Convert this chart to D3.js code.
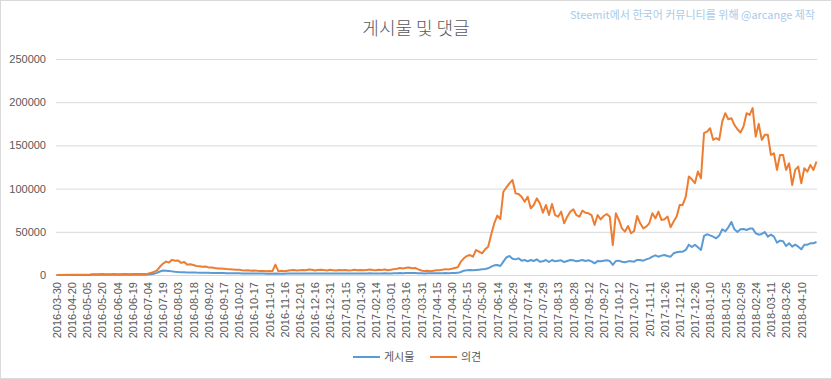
<!DOCTYPE html>
<html>
<head>
<meta charset="utf-8">
<script src="https://cdn.jsdelivr.net/npm/d3@7/dist/d3.min.js"></script>
<style>
  html, body { margin: 0; padding: 0; background: #fff; }
  svg { display: block; }
  text { font-family: 'Liberation Sans', 'Noto Sans CJK KR', sans-serif; }
</style>
</head>
<body>
<svg id="chart" width="832" height="379"></svg>
<script>
// ---------------- DATA ----------------
const titleText = "게시물 및 댓글";
const creditText = "Steemit에서 한국어 커뮤니티를 위해 @arcange 제작";
const seriesNames = ["게시물", "의견"];
const seriesColors = ["#5B9BD5", "#ED7D31"];

const yTicks = [0, 50000, 100000, 150000, 200000, 250000];

const tickLabels = [
  "2016-03-30","2016-04-20","2016-05-05","2016-05-20","2016-06-04","2016-06-19","2016-07-04","2016-07-19",
  "2016-08-03","2016-08-18","2016-09-02","2016-09-17","2016-10-02","2016-10-17","2016-11-01","2016-11-16",
  "2016-12-01","2016-12-16","2016-12-31","2017-01-15","2017-01-30","2017-02-14","2017-03-01","2017-03-16",
  "2017-03-31","2017-04-15","2017-04-30","2017-05-15","2017-05-30","2017-06-14","2017-06-29","2017-07-14",
  "2017-07-29","2017-08-13","2017-08-28","2017-09-12","2017-09-27","2017-10-12","2017-10-27","2017-11-11",
  "2017-11-26","2017-12-11","2017-12-26","2018-01-10","2018-01-25","2018-02-09","2018-02-24","2018-03-11",
  "2018-03-26","2018-04-10"
];

// category axis: first day, then daily days (the source skips some early days)
const firstDay = "2016-03-30";
const dailyStart = "2016-04-06";
const dailyEnd = "2018-04-25";

// samples: first day, then every 3rd day from 2016-04-20
const sampleStart = "2016-04-20";
const sampleStepDays = 3;

// 게시물 (posts)
const posts = [0,
  0,0,0,50,0,50,100,150,200,150,200,200,150,200,200,250,200,250,300,250,300,300,350,300,400,500,
  800,1500,2500,4000,5200,5000,4600,4200,3800,3500,3300,3200,3000,2900,3000,2800,2700,2600,2600,2500,
  2400,2300,2300,2200,2200,2100,2000,2000,1900,1900,1800,1800,1800,1700,1700,1600,1600,1600,1500,1500,
  1500,1800,1500,1500,1500,1600,1600,1700,1600,1600,
  1700,1600,1800,1700,1600,1700,1800,1700,1600,1700,1700,1600,1700,1600,1700,1600,1700,1800,1600,1700,
  1700,1800,1900,1800,1700,1800,1800,1900,1800,1800,1900,2000,2200,2100,2200,2300,2200,2200,2000,1900,
  1800,1900,1900,2000,2100,2000,2100,2200,2100,2300,2400,
  2500,3500,5000,5400,5800,5400,5800,6200,6600,6900,7700,9600,11200,11600,10400,15400,20400,22000,18900,18100,
  19300,16600,17400,15800,17400,16200,18100,15400,15800,17400,15000,17400,15800,16600,17000,15000,16200,17400,17000,15800,
  16600,17400,16200,17000,15800,13500,16200,15800,16600,17000,16200,11600,16200,16600,
  15400,14700,15800,15800,15400,17400,17400,16600,18100,19300,21200,22800,21200,22400,23200,22000,21200,25100,26300,27000,
  27000,29000,35100,32400,35100,32000,29000,45200,47100,45900,44400,42500,45600,52900,50600,55200,61400,52900,49800,52900,
  53300,52100,53700,53700,48300,46700,47500,49800,44400,46700,44400,37500,39800,39000,33600,36700,32800,35100,32800,29700,
  35100,35100,36700,36700,38200
];

// 의견 (comments)
const comments = [0,
  300,300,400,300,400,300,500,900,1000,900,1100,1000,900,1000,1100,1000,1000,1100,1200,1000,1100,1200,1100,1200,1300,1500,
  2500,3500,5000,9500,13000,15500,14500,17500,16500,16800,14000,15000,12000,12500,11500,10500,10000,9500,9800,8800,
  8600,8000,7600,7400,7200,6900,6700,6500,6000,6200,5500,5300,5400,5000,5200,4800,4600,4700,4300,4500,
  4200,12000,4200,4800,4400,5000,5500,5800,5200,5600,
  5900,5400,6300,6000,5200,5800,6200,5700,5300,6000,5600,5200,5900,5500,5800,5300,5600,6000,5400,5700,
  5500,5900,6300,5700,5400,6100,5800,6400,5600,6000,6800,7200,8000,7400,8300,
  8600,7900,8200,6500,5200,4500,4800,4400,5000,5600,5400,6200,6800,6500,7300,8200,
  9000,15400,19300,22000,23100,21200,28900,27000,25100,29700,32800,47000,59800,68700,64800,96400,101500,106100,110000,94500,
  93700,90600,84800,90600,77200,81000,88700,83000,72100,81000,69400,82200,69400,67500,73300,59800,67500,73300,76000,69400,
  67500,74500,72100,71400,69400,57900,69400,64400,68300,70600,67500,34700,71400,63700,
  54000,50200,56800,48300,51000,68300,59800,54000,56000,59800,71400,65600,73400,63700,64500,67600,55200,61800,67600,81100,
  81100,90700,113900,110800,106200,119700,112000,164100,166000,169900,156400,158300,156400,177600,187300,180300,181500,173700,168700,164900,
  171800,187300,185300,193100,160200,174900,156400,162200,162200,139000,140900,121600,139000,139000,121600,129300,104200,121600,125500,106200,
  123500,119700,127400,121600,131300
];

// ---------------- BUILD ----------------
const parse = d3.utcParse("%Y-%m-%d");
const fmt = d3.utcFormat("%Y-%m-%d");

const categories = [firstDay].concat(
  d3.utcDay.range(parse(dailyStart), d3.utcDay.offset(parse(dailyEnd), 1)).map(fmt)
);
const sampleDates = [firstDay].concat(
  d3.range(posts.length - 1).map(k => fmt(d3.utcDay.offset(parse(sampleStart), k * sampleStepDays)))
);

const seriesValues = [posts, comments];

const W = 832, H = 379;
const M = { left: 56, right: 15, top: 59, bottom: 104 };
const svg = d3.select("#chart");

svg.append("rect").attr("x", 0.5).attr("y", 0.5).attr("width", W - 1).attr("height", H - 1)
  .attr("fill", "#fff").attr("stroke", "#d9d9d9");

const x = d3.scalePoint().domain(categories).range([M.left, W - M.right]).padding(0.5);
const y = d3.scaleLinear().domain([0, 250000]).range([H - M.bottom, M.top]);

// grid + y axis
const yAxis = svg.append("g").attr("transform", `translate(${M.left},0)`)
  .call(d3.axisLeft(y).tickValues(yTicks).tickFormat(d3.format("d")).tickSize(-(W - M.left - M.right)).tickPadding(10));
yAxis.select(".domain").remove();
yAxis.selectAll(".tick line").attr("stroke", "#d9d9d9").attr("stroke-width", 1);
yAxis.selectAll(".tick text").attr("fill", "#595959").style("font-size", "11px");

// x axis labels
const xAxis = svg.append("g").attr("transform", `translate(0,${H - M.bottom})`)
  .call(d3.axisBottom(x).tickValues(tickLabels).tickSize(0).tickPadding(0));
xAxis.select(".domain").attr("stroke", "#d9d9d9");
xAxis.selectAll(".tick text")
  .attr("fill", "#595959").style("font-size", "11px")
  .attr("text-anchor", "end")
  .attr("transform", "rotate(-90)")
  .attr("x", -7).attr("y", 0).attr("dy", "0.35em");

// lines
const line = d3.line()
  .x((d, i) => x(sampleDates[i]))
  .y(d => y(d))
  .curve(d3.curveLinear);

seriesValues.forEach((vals, s) => {
  svg.append("path")
    .datum(vals)
    .attr("fill", "none")
    .attr("stroke", seriesColors[s])
    .attr("stroke-width", 2)
    .attr("stroke-linejoin", "round")
    .attr("d", line);
});

// title
svg.append("text").attr("x", 416).attr("y", 35).attr("text-anchor", "middle")
  .style("font-family", "'Noto Sans CJK KR', sans-serif").style("font-size", "18px")
  .style("font-weight", 300)
  .attr("fill", "#595959").text(titleText);

svg.append("text").attr("x", 815).attr("y", 19).attr("text-anchor", "end")
  .style("font-family", "'Noto Sans CJK KR', 'Liberation Sans', sans-serif").style("font-size", "11px")
  .attr("fill", "#A9CBEA").text(creditText);

// legend
const legendItems = [{ x: 353 }, { x: 430 }];
seriesNames.forEach((name, i) => {
  const g = svg.append("g").attr("transform", `translate(${legendItems[i].x},357)`);
  g.append("line").attr("x1", 0).attr("x2", 27).attr("y1", 0).attr("y2", 0)
    .attr("stroke", seriesColors[i]).attr("stroke-width", 2);
  g.append("text").attr("x", 31).attr("y", 4)
    .style("font-family", "'Noto Sans CJK KR', sans-serif").style("font-size", "11px")
    .attr("fill", "#595959").text(name);
});
</script>
</body>
</html>
